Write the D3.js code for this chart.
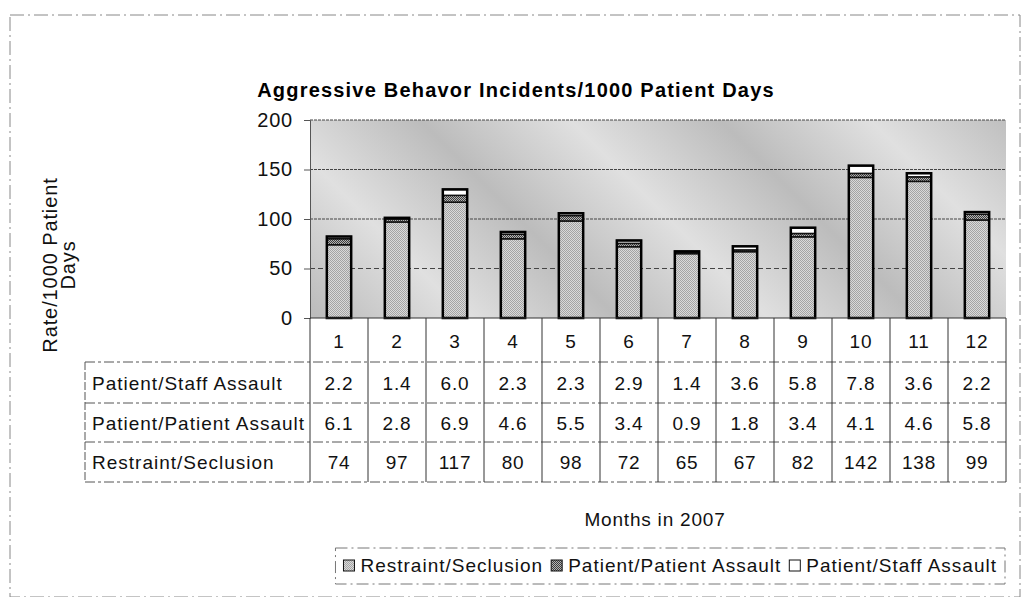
<!DOCTYPE html>
<html>
<head>
<meta charset="utf-8">
<script src="https://cdn.jsdelivr.net/npm/d3@7"></script>
<style>
  body { margin: 0; background: #fff; }
  svg { font-family: "Liberation Sans", Arial, sans-serif; }
</style>
</head>
<body>
<svg id="chart1"></svg>
<script>
// data
const months = ['1', '2', '3', '4', '5', '6', '7', '8', '9', '10', '11', '12'];
const restraint = [74, 97, 117, 80, 98, 72, 65, 67, 82, 142, 138, 99];
const patientAssault = [6.1, 2.8, 6.9, 4.6, 5.5, 3.4, 0.9, 1.8, 3.4, 4.1, 4.6, 5.8];
const staffAssault = [2.2, 1.4, 6.0, 2.3, 2.3, 2.9, 1.4, 3.6, 5.8, 7.8, 3.6, 2.2];
const yTicks = [0, 50, 100, 150, 200];
const seriesNames = ['Restraint/Seclusion', 'Patient/Patient Assault', 'Patient/Staff Assault'];

const w = 1025, h = 597;
const plotLeft = 310, plotRight = 1006, plotTop = 120, plotBottom = 318;
const fs = 19, ls = 1.0; // scanned text is a bit wider than Arial

const svg = d3.select('#chart1').attr('width', w).attr('height', h);

// patterns to mimic the dithered greys of the scan
const defs = svg.append('defs');
function dither(id, a, b) {
  let p = defs.append('pattern').attr('id', id)
    .attr('width', 2).attr('height', 2).attr('patternUnits', 'userSpaceOnUse');
  p.append('rect').attr('width', 2).attr('height', 2).attr('fill', a);
  p.append('rect').attr('width', 1).attr('height', 1).attr('fill', b);
  p.append('rect').attr('x', 1).attr('y', 1).attr('width', 1).attr('height', 1).attr('fill', b);
}
dither('restPat', '#dadada', '#a4a4a4');
dither('ppPat', '#b4b4b4', '#3c3c3c');

let grad = defs.append('linearGradient').attr('id', 'bgGrad')
  .attr('gradientUnits', 'userSpaceOnUse')
  .attr('x1', 0).attr('y1', 0).attr('x2', 75).attr('y2', -75)
  .attr('spreadMethod', 'reflect');
grad.append('stop').attr('offset', '0%').attr('stop-color', '#bcbcbc');
grad.append('stop').attr('offset', '100%').attr('stop-color', '#e0e0e0');

// outer frame
svg.append('rect')
  .attr('x', 10).attr('y', 15).attr('width', 1010).attr('height', 582)
  .attr('fill', 'none').attr('stroke', '#888').attr('stroke-dasharray', '14,4,2,4');

// title
svg.append('text')
  .attr('x', 516).attr('y', 97)
  .attr('text-anchor', 'middle')
  .attr('font-size', 20).attr('font-weight', 'bold')
  .attr('letter-spacing', 1.2)
  .text('Aggressive Behavor Incidents/1000 Patient Days');

const xScale = d3.scaleBand().domain(months).range([plotLeft, plotRight]);
const yScale = d3.scaleLinear().domain([0, 200]).range([plotBottom, plotTop]);

// plot background
svg.append('rect')
  .attr('x', plotLeft).attr('y', plotTop)
  .attr('width', plotRight - plotLeft).attr('height', plotBottom - plotTop)
  .attr('fill', 'url(#bgGrad)');

// gridlines
svg.append('g').selectAll('line')
  .data(yTicks.filter((d) => d > 0))
  .enter()
  .append('line')
  .attr('x1', plotLeft).attr('x2', plotRight)
  .attr('y1', (d) => yScale(d)).attr('y2', (d) => yScale(d))
  .attr('stroke', '#444').attr('stroke-width', 1)
  .attr('stroke-dasharray', (d) => d == 50 ? '5,3' : '3,1');

// y axis
const yAxis = d3.axisLeft(yScale).tickValues(yTicks).tickSize(6).tickPadding(11);
const yAxisGroup = svg.append('g')
  .attr('transform', `translate(${plotLeft},0)`)
  .call(yAxis);
yAxisGroup.select('.domain').attr('stroke', '#555');
yAxisGroup.selectAll('.tick line').attr('stroke', '#555');
yAxisGroup.selectAll('text').attr('font-size', 20).attr('fill', '#111')
  .attr('letter-spacing', 0.8)
  .attr('font-family', '"Liberation Sans", Arial, sans-serif');

// stacked bars
const rows = months.map((m, i) => ({
  month: m,
  'Restraint/Seclusion': restraint[i],
  'Patient/Patient Assault': patientAssault[i],
  'Patient/Staff Assault': staffAssault[i]
}));
const stack = d3.stack().keys(seriesNames)(rows);
const fills = { 'Restraint/Seclusion': 'url(#restPat)', 'Patient/Patient Assault': 'url(#ppPat)', 'Patient/Staff Assault': '#fff' };
const barW = xScale.bandwidth() * 0.42;
const total = (d) => d['Restraint/Seclusion'] + d['Patient/Patient Assault'] + d['Patient/Staff Assault'];

svg.append('g').selectAll('g')
  .data(stack)
  .enter()
  .append('g')
  .attr('fill', (s) => fills[s.key])
  .selectAll('rect')
  .data((s) => s)
  .enter()
  .append('rect')
  .attr('x', (d) => xScale(d.data.month) + (xScale.bandwidth() - barW) / 2)
  .attr('y', (d) => yScale(d[1]))
  .attr('width', barW)
  .attr('height', (d) => yScale(d[0]) - yScale(d[1]))
  .attr('stroke', '#111').attr('stroke-width', 1.5);

// bar outlines
svg.append('g').selectAll('rect')
  .data(rows)
  .enter()
  .append('rect')
  .attr('x', (d) => xScale(d.month) + (xScale.bandwidth() - barW) / 2)
  .attr('y', (d) => yScale(total(d)))
  .attr('width', barW)
  .attr('height', (d) => plotBottom - yScale(total(d)))
  .attr('fill', 'none').attr('stroke', '#000').attr('stroke-width', 2.5);

// data table
const tableLeft = 85;
const rowLines = [362, 403, 442, 482];
const tableRows = [
  { name: 'Patient/Staff Assault', vals: staffAssault.map((v) => v.toFixed(1)) },
  { name: 'Patient/Patient Assault', vals: patientAssault.map((v) => v.toFixed(1)) },
  { name: 'Restraint/Seclusion', vals: restraint.map((v) => String(v)) }
];
const table = svg.append('g').attr('stroke', '#555').attr('stroke-width', 1);

table.append('line').attr('x1', plotLeft).attr('x2', plotRight).attr('y1', plotBottom).attr('y2', plotBottom).attr('stroke', '#333');
rowLines.forEach((y) => {
  table.append('line').attr('x1', tableLeft).attr('x2', plotRight).attr('y1', y).attr('y2', y)
    .attr('stroke-dasharray', '10,3,3,3');
});
table.append('line').attr('x1', tableLeft).attr('x2', tableLeft).attr('y1', rowLines[0]).attr('y2', rowLines[3])
  .attr('stroke-dasharray', '8,2');
months.concat(['end']).forEach((m) => {
  let x = m == 'end' ? plotRight : xScale(m);
  table.append('line').attr('x1', x).attr('x2', x).attr('y1', plotBottom).attr('y2', rowLines[3]).attr('stroke', '#333');
});

// month labels
svg.append('g').selectAll('text')
  .data(months)
  .enter()
  .append('text')
  .attr('x', (d) => xScale(d) + xScale.bandwidth() / 2)
  .attr('y', 348)
  .attr('text-anchor', 'middle')
  .attr('font-size', fs).attr('letter-spacing', ls).attr('fill', '#111')
  .text((d) => d);

tableRows.forEach((r, j) => {
  let yText = (rowLines[j] + rowLines[j + 1]) / 2 + 7;
  svg.append('text')
    .attr('x', 92).attr('y', yText)
    .attr('font-size', fs).attr('letter-spacing', ls).attr('fill', '#111')
    .text(r.name);
  svg.append('g').selectAll('text')
    .data(r.vals)
    .enter()
    .append('text')
    .attr('x', (d, i) => xScale(months[i]) + xScale.bandwidth() / 2)
    .attr('y', yText)
    .attr('text-anchor', 'middle')
    .attr('font-size', fs).attr('letter-spacing', 0.8).attr('fill', '#111')
    .text((d) => d);
});

// axis titles
svg.append('text')
  .attr('x', 655).attr('y', 526)
  .attr('text-anchor', 'middle')
  .attr('font-size', fs).attr('letter-spacing', 0.8).attr('fill', '#111')
  .text('Months in 2007');

let yTitle = svg.append('text')
  .attr('transform', 'translate(0,265) rotate(-90)')
  .attr('text-anchor', 'middle')
  .attr('font-size', 20).attr('letter-spacing', 0.9).attr('fill', '#111');
yTitle.append('tspan').attr('x', 0).attr('y', 57).text('Rate/1000 Patient');
yTitle.append('tspan').attr('x', 0).attr('y', 75).text('Days');

// legend: laid out right to left from the right edge of the box
const legendRight = 1005;
const legendFill = ['url(#restPat)', 'url(#ppPat)', '#fff'];
const legend = svg.append('g');
let lx = legendRight - 8;
for (let i = seriesNames.length - 1; i >= 0; i--) {
  let t = legend.append('text')
    .attr('x', lx).attr('y', 572)
    .attr('text-anchor', 'end')
    .attr('font-size', fs).attr('letter-spacing', ls).attr('fill', '#111')
    .text(seriesNames[i]);
  lx -= t.node().getComputedTextLength() + 17;
  legend.append('rect')
    .attr('x', lx).attr('y', 560).attr('width', 11).attr('height', 11)
    .attr('fill', legendFill[i]).attr('stroke', '#111');
  lx -= 8;
}
legend.insert('rect', ':first-child')
  .attr('x', lx).attr('y', 548).attr('width', legendRight - lx).attr('height', 36)
  .attr('fill', 'none').attr('stroke', '#777').attr('stroke-dasharray', '12,4,2,4');
</script>
</body>
</html>
